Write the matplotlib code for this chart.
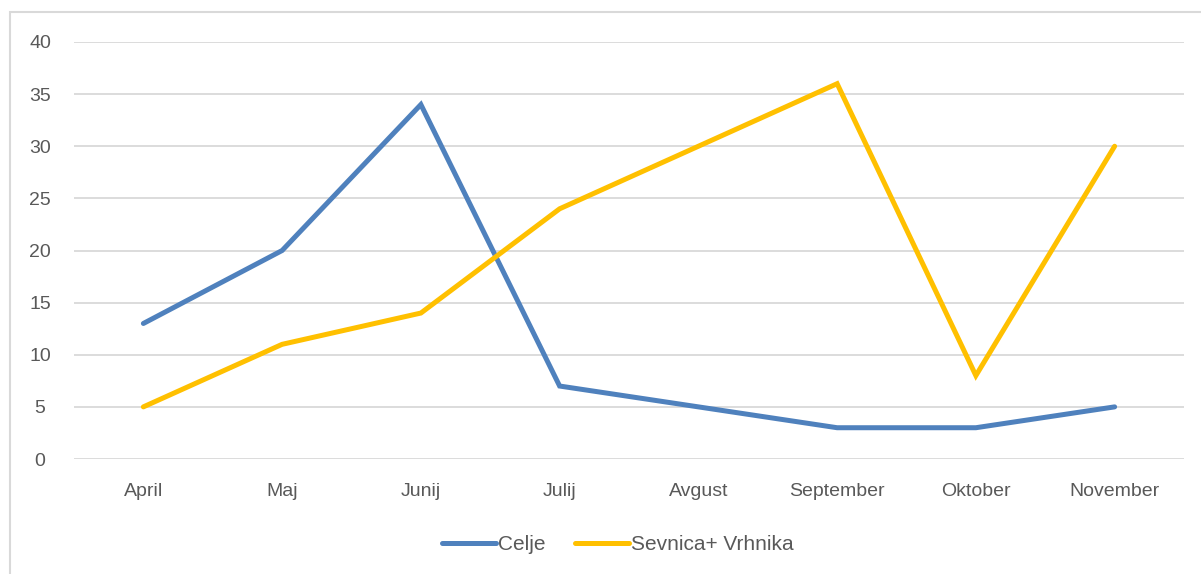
import matplotlib.pyplot as plt
from matplotlib.patches import Rectangle

# Podatki
meseci = ['April', 'Maj', 'Junij', 'Julij', 'Avgust', 'September', 'Oktober', 'November']
celje = [13, 20, 34, 7, 5, 3, 3, 5]
sevnica_vrhnika = [5, 11, 14, 24, 30, 36, 8, 30]

plt.rcParams['font.family'] = ['Liberation Sans', 'DejaVu Sans']
tekst = '#595959'

fig = plt.figure(figsize=(12.01, 5.74), dpi=100)
ax = fig.add_axes([74 / 1201, 1 - 459 / 574, 1110 / 1201, 417 / 574])

# okvir grafikona
fig.patches.append(Rectangle((10 / 1201, -0.1), 1.2, 1.1 - 12 / 574,
                             transform=fig.transFigure, fill=False,
                             edgecolor='#d9d9d9', linewidth=1.5))

x = range(len(meseci))
ax.plot(x, celje, color='#4f81bd', linewidth=3.6, label='Celje',
        solid_capstyle='round', solid_joinstyle='miter')
ax.plot(x, sevnica_vrhnika, color='#ffc000', linewidth=3.6, label='Sevnica+ Vrhnika',
        solid_capstyle='round', solid_joinstyle='miter')

ax.set_xlim(-0.5, len(meseci) - 0.5)
ax.set_ylim(0, 40)
ax.set_yticks(range(0, 41, 5))
ax.set_xticks(list(x))
ax.set_xticklabels(meseci)
ax.yaxis.grid(True, color='#d9d9d9', linewidth=1.3)
ax.set_axisbelow(True)
for s in ax.spines.values():
    s.set_visible(False)
ax.tick_params(length=0, labelsize=14, colors=tekst)
ax.tick_params(axis='x', pad=17)
ax.tick_params(axis='y', pad=24.5)
for lbl in ax.get_yticklabels():
    lbl.set_horizontalalignment('center')

ax.legend(loc='center', bbox_to_anchor=(0.49, -0.205), ncol=2, frameon=False,
          prop={'size': 15}, labelcolor=tekst, handlelength=2.6, handletextpad=0.1,
          columnspacing=1.4)

fig.savefig('out.png', dpi=100)
